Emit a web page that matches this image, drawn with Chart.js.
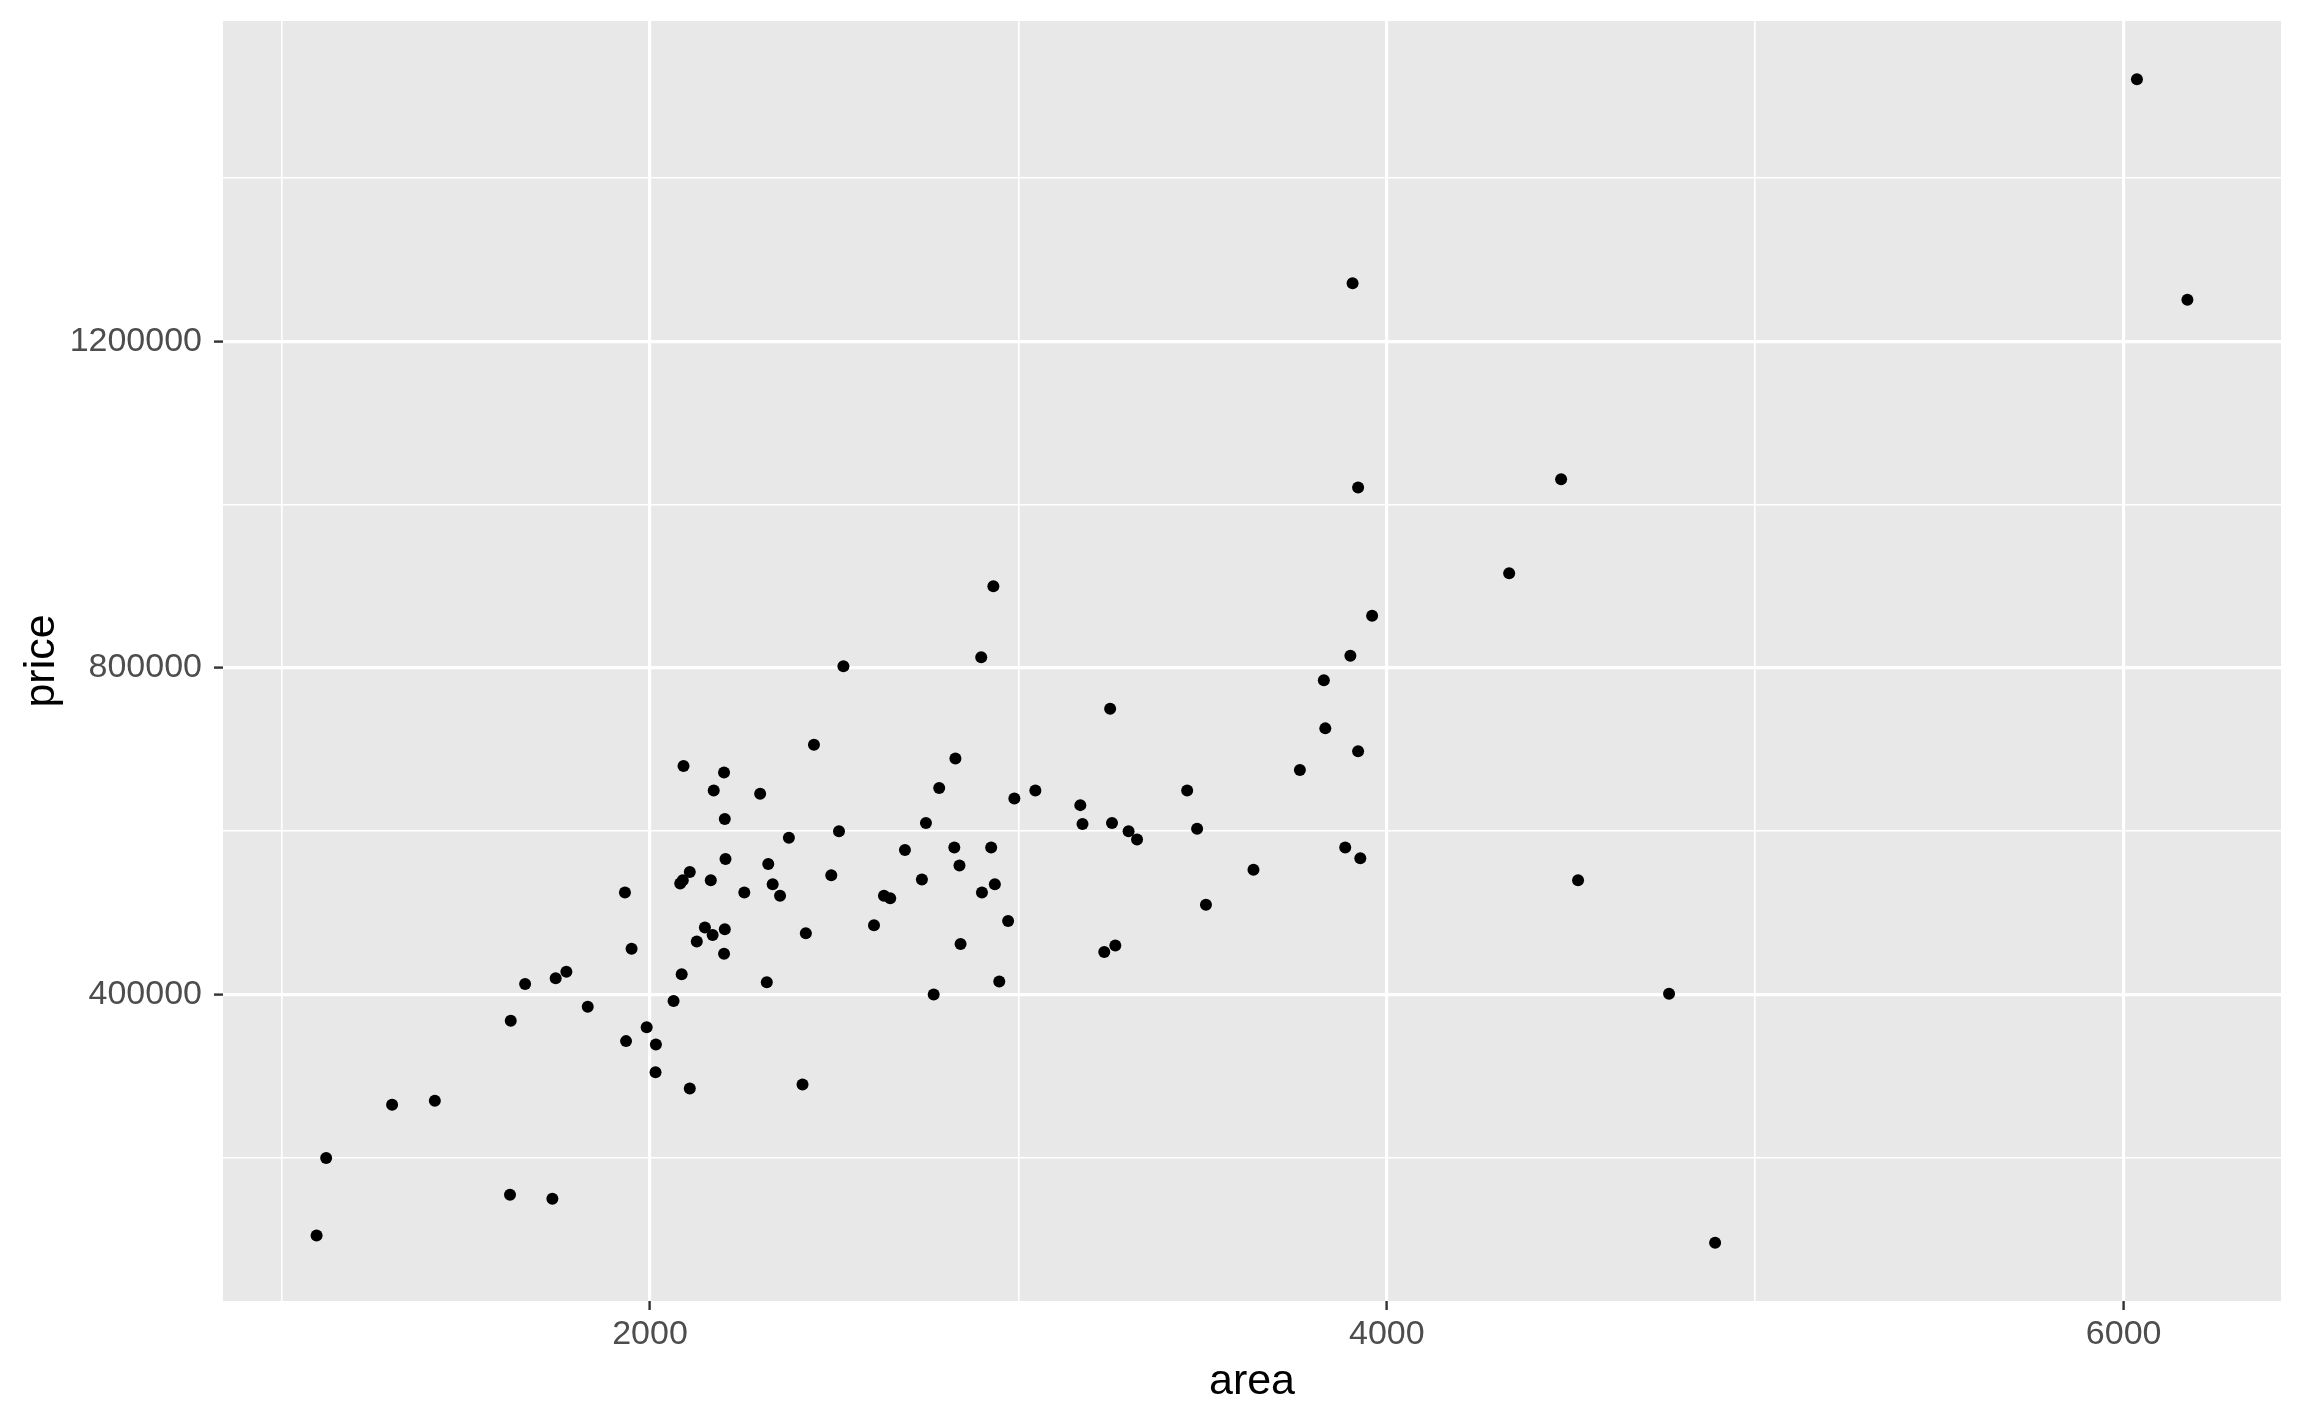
<!DOCTYPE html>
<html>
<head>
<meta charset="utf-8">
<script src="https://cdn.jsdelivr.net/npm/chart.js@4"></script>
<style>
    body { margin: 0; background: #ffffff; }
    #wrap { width: 2304px; height: 1423px; }
</style>
</head>
<body>
<div id="wrap"><canvas id="scatter" width="2304" height="1423"></canvas></div>
<script>
// values
const area = [1095, 1121, 1300, 1416, 1622, 1620, 1661, 1735, 1744, 1773,
    1831, 1935, 1932, 1950, 1991, 2016, 2015, 2064, 2086, 2082,
    2089, 2108, 2091, 2108, 2127, 2149, 2170, 2165, 2173, 2201,
    2203, 2205, 2203, 2201, 2256, 2299, 2317, 2321, 2333, 2353,
    2377, 2414, 2423, 2445, 2492, 2513, 2525, 2608, 2635, 2652,
    2692, 2738, 2749, 2770, 2785, 2826, 2829, 2840, 2843, 2899,
    2901, 2926, 2932, 2936, 2948, 2972, 2989, 3046, 3168, 3174,
    3233, 3263, 3249, 3254, 3299, 3322, 3458, 3485, 3509, 3638,
    3764, 3829, 3833, 3887, 3901, 3907, 3922, 3922, 3928, 3960,
    4332, 4473, 4519, 4766, 4891, 6036, 6173];

const price = [105000, 200000, 265000, 270000, 368000, 155000, 413000, 150000, 420000, 428000,
    385000, 343000, 525000, 456000, 360000, 339000, 305000, 392000, 425000, 536000,
    540000, 550000, 680000, 285000, 465000, 482000, 473000, 540000, 650000, 672000,
    615000, 566000, 480000, 450000, 525000, 646000, 415000, 560000, 535000, 521000,
    592000, 290000, 475000, 706000, 546000, 600000, 802000, 485000, 521000, 518000,
    577000, 541000, 610000, 400000, 653000, 580000, 689000, 558000, 462000, 813000,
    525000, 580000, 900000, 535000, 416000, 490000, 640000, 650000, 632000, 609000,
    452000, 460000, 750000, 610000, 600000, 590000, 650000, 603000, 510000, 553000,
    675000, 785000, 726000, 580000, 815000, 1271000, 1021000, 698000, 567000, 864000,
    916000, 1031000, 540000, 401000, 96000, 1521000, 1251000];

// gridline positions and the ones that carry a label
const xGrid = [1000, 2000, 3000, 4000, 5000, 6000];
const yGrid = [200000, 400000, 600000, 800000, 1000000, 1200000, 1400000];
const xTickLabels = [2000, 4000, 6000];
const yTickLabels = [400000, 800000, 1200000];

const xRange = [841, 6427];
const yRange = [24750, 1592250];

const FONT = "'Liberation Sans', Arial, Helvetica, sans-serif";

// grey panel behind the plot area
const panelBg = {
    id: 'panelBg',
    beforeDraw(chart) {
        const { ctx, chartArea: a } = chart;
        ctx.save();
        ctx.fillStyle = '#E8E8E8';
        ctx.fillRect(a.left, a.top, a.right - a.left, a.bottom - a.top);
        ctx.restore();
    }
};

function isMajor(list, value) {
    return list.includes(value);
}

const scatterChart = new Chart(document.getElementById('scatter').getContext('2d'), {
    type: 'scatter',
    data: {
        datasets: [{
            label: 'price',
            data: area.map((a, i) => ({ x: a, y: price[i] })),
            pointRadius: 6,
            pointHoverRadius: 6,
            pointBackgroundColor: '#000000',
            pointBorderWidth: 0
        }]
    },
    options: {
        responsive: false,
        animation: false,
        devicePixelRatio: 1,
        layout: {
            padding: { left: 0, right: 23, top: 21, bottom: 0 }
        },
        plugins: {
            legend: { display: false },
            tooltip: { enabled: false }
        },
        scales: {
            x: {
                type: 'linear',
                min: xRange[0],
                max: xRange[1],
                border: { display: false },
                afterBuildTicks: (scale) => { scale.ticks = xGrid.map(v => ({ value: v })); },
                afterFit: (scale) => {
                    scale.height = 122;
                    scale.paddingLeft = 0;
                    scale.paddingRight = 0;
                },
                grid: {
                    color: '#FFFFFF',
                    lineWidth: (ctx) => ctx.tick && isMajor(xTickLabels, ctx.tick.value) ? 3.2 : 1.6,
                    tickColor: (ctx) => ctx.tick && isMajor(xTickLabels, ctx.tick.value) ? '#333333' : 'rgba(0,0,0,0)',
                    tickLength: 9,
                    tickWidth: 2.4
                },
                ticks: {
                    maxRotation: 0,
                    autoSkip: false,
                    padding: 4,
                    color: '#4D4D4D',
                    font: { family: FONT, size: 34 },
                    callback: (v) => isMajor(xTickLabels, v) ? String(v) : ''
                },
                title: {
                    display: true,
                    text: 'area',
                    color: '#000000',
                    font: { family: FONT, size: 43 },
                    padding: { top: 0, bottom: 15 }
                }
            },
            y: {
                type: 'linear',
                min: yRange[0],
                max: yRange[1],
                border: { display: false },
                afterBuildTicks: (scale) => { scale.ticks = yGrid.map(v => ({ value: v })); },
                afterFit: (scale) => {
                    scale.width = 223;
                    scale.paddingTop = 0;
                    scale.paddingBottom = 0;
                },
                grid: {
                    color: '#FFFFFF',
                    lineWidth: (ctx) => ctx.tick && isMajor(yTickLabels, ctx.tick.value) ? 3.2 : 1.6,
                    tickColor: (ctx) => ctx.tick && isMajor(yTickLabels, ctx.tick.value) ? '#333333' : 'rgba(0,0,0,0)',
                    tickLength: 9,
                    tickWidth: 2.4
                },
                ticks: {
                    autoSkip: false,
                    padding: 12,
                    color: '#4D4D4D',
                    font: { family: FONT, size: 34 },
                    callback: (v) => isMajor(yTickLabels, v) ? String(v) : ''
                },
                title: {
                    display: true,
                    text: 'price',
                    color: '#000000',
                    font: { family: FONT, size: 43 },
                    padding: { top: 16, bottom: 0 }
                }
            }
        }
    },
    plugins: [panelBg]
});
</script>
</body>
</html>
